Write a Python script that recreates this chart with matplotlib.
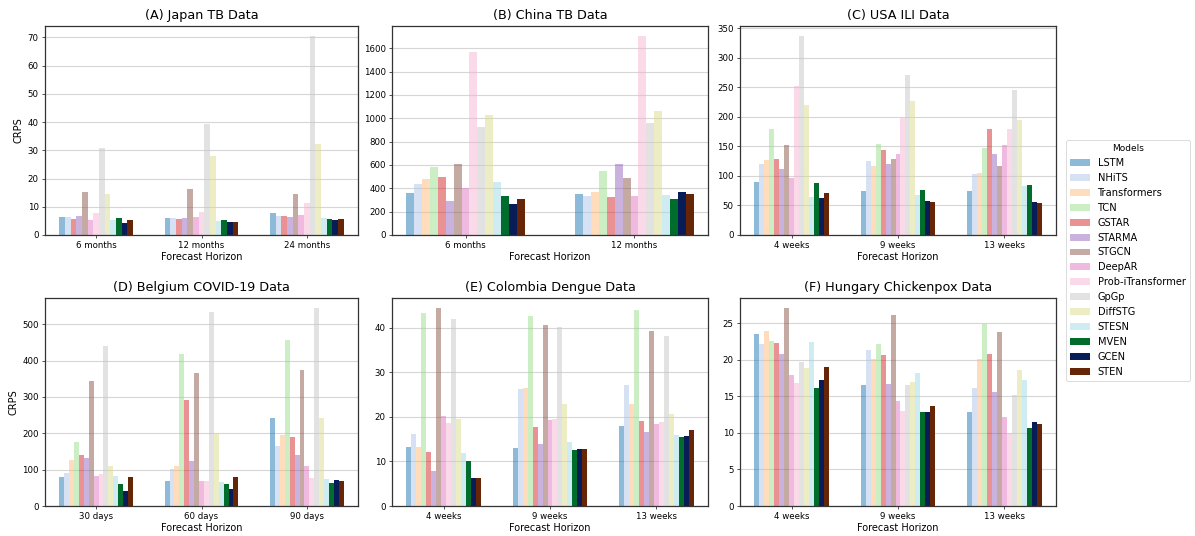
import matplotlib
matplotlib.use("Agg")
import matplotlib.pyplot as plt
import numpy as np

models = ["LSTM", "NHiTS", "Transformers", "TCN", "GSTAR", "STARMA", "STGCN",
          "DeepAR", "Prob-iTransformer", "GpGp", "DiffSTG", "STESN", "MVEN", "GCEN", "STEN"]

colors = ["#1f77b4", "#aec7e8", "#ffbb78", "#98df8a", "#d62728", "#9467bd", "#8c564b",
          "#e377c2", "#f7b6d2", "#c7c7c7", "#dbdb8d", "#9edae5", "#006d2c", "#081d58", "#662506"]
alphas = [0.5] * 12 + [1.0] * 3

# (A) Japan TB - rows follow `models`, None = not reported
japan_horizons = ["6 months", "12 months", "24 months"]
japan_crps = [
    [6.4, 6.0, 7.8], [6.4, 6.0, 6.7], None, None, [5.7, 5.7, 6.7], [6.7, 6.0, 6.4],
    [15.2, 16.3, 14.5], [5.3, 6.4, 7.1], [7.8, 8.1, 11.3], [30.8, 39.3, 70.5],
    [14.5, 28.0, 32.2], [5.3, 5.0, 6.0], [6.0, 5.3, 5.7], [4.25, 4.6, 5.3], [5.3, 4.6, 5.7],
]

# (B) China TB
china_horizons = ["6 months", "12 months"]
china_crps = [
    [360, 351], [437, 334], [480, 369], [583, 549], [497, 326], [291, 609], [609, 489],
    [400, 334], [1569, 1706], [926, 960], [1029, 1063], [454, 343], [334, 309], [266, 369], [309, 351],
]

# (C) USA ILI
usa_horizons = ["4 weeks", "9 weeks", "13 weeks"]
usa_crps = [
    [89.8, 74.5, 74.5], [120, 125, 103], [127, 117, 105], [179.5, 154, 147], [128.7, 144, 179.5],
    [111.8, 120, 137], [152.4, 128.7, 117], [96.5, 137, 152], [252, 198, 179.5], [337, 271, 245.6],
    [220, 227, 194.8], [64.4, 67.8, 83], [88, 76, 84.7], [62.7, 57.6, 56], [71, 56, 54],
]

# (D) Belgium COVID-19
belgium_horizons = ["30 days", "60 days", "90 days"]
belgium_crps = [
    [80.6, 69.6, 242.7], [91.6, 102.6, 165.8], [127, 110.8, 196], [176.7, 418.5, 457],
    [141, 292, 190.5], [132.8, 124.5, 141], [344, 366, 374.5], [83.3, 69.6, 110.8],
    [88.8, 69.6, 77.8], [440, 534, 545], [110.8, 201.5, 242.7], [83.3, 66.8, 75],
    [61.4, 61.4, 64], [42, 47.6, 72.3], [80.6, 80.6, 69.6],
]

# (E) Colombia Dengue
colombia_horizons = ["4 weeks", "9 weeks", "13 weeks"]
colombia_crps = [
    [13.3, 13.1, 18.0], [16.2, 26.3, 27.2], [13.3, 26.5, 23.0], [43.4, 42.7, 44.0],
    [12.2, 17.8, 19.1], [7.9, 14.0, 16.7], [44.5, 40.7, 39.3], [20.3, 19.4, 18.5],
    [18.7, 19.6, 18.9], [42.0, 40.2, 38.2], [19.6, 23.0, 20.7], [12.0, 14.4, 16.0],
    [10.2, 12.6, 15.6], [6.4, 12.9, 15.8], [6.4, 12.9, 17.1],
]

# (F) Hungary Chickenpox
hungary_horizons = ["4 weeks", "9 weeks", "13 weeks"]
hungary_crps = [
    [23.5, 16.6, 12.9], [22.2, 21.4, 16.2], [24.0, 20.1, 20.1], [22.6, 22.2, 24.9],
    [22.3, 20.7, 20.8], [20.8, 16.7, 15.6], [27.1, 26.1, 23.8], [17.9, 14.4, 12.2],
    [16.8, 13.0, 10.0], [19.7, 16.6, 15.2], [18.9, 17.0, 18.6], [22.5, 18.2, 17.3],
    [16.2, 12.9, 10.7], [17.3, 12.9, 11.5], [19.0, 13.7, 11.2],
]

panels = [
    ("(A) Japan TB Data", japan_horizons, japan_crps),
    ("(B) China TB Data", china_horizons, china_crps),
    ("(C) USA ILI Data", usa_horizons, usa_crps),
    ("(D) Belgium COVID-19 Data", belgium_horizons, belgium_crps),
    ("(E) Colombia Dengue Data", colombia_horizons, colombia_crps),
    ("(F) Hungary Chickenpox Data", hungary_horizons, hungary_crps),
]

W, H = 1195, 536
fig = plt.figure(figsize=(W / 100, H / 100), dpi=100)

lefts = [45, 392, 740]
widths = [313, 316, 316]
tops = [26, 298]
heights = [209, 208]

handles = {}
for k, (title, horizons, crps) in enumerate(panels):
    r, c = divmod(k, 3)
    ax = fig.add_axes([lefts[c] / W, (H - tops[r] - heights[r]) / H, widths[c] / W, heights[r] / H])
    present = [i for i, v in enumerate(crps) if v is not None]
    n = len(present)
    w = 0.7 / n
    x = np.arange(len(horizons))
    for j, i in enumerate(present):
        b = ax.bar(x + (j - (n - 1) / 2) * w, crps[i], width=w, color=colors[i],
                   alpha=alphas[i], label=models[i], linewidth=0)
        handles.setdefault(models[i], b)
    ax.set_xticks(x)
    ax.set_xticklabels(horizons)
    ax.tick_params(axis="both", labelsize=6.2, length=2.5, width=0.6, pad=2, color="#333333")
    ax.set_title(title, fontsize=9.2, pad=5)
    ax.set_xlabel("Forecast Horizon", fontsize=7, labelpad=1)
    if c == 0:
        ax.set_ylabel("CRPS", fontsize=7, labelpad=3)
    ax.yaxis.grid(True, color="#d6d6d6", linewidth=0.8)
    ax.set_axisbelow(True)
    for s in ax.spines.values():
        s.set_color("#333333")
        s.set_linewidth(0.9)

leg = fig.legend([handles[m] for m in models], models, title="Models",
                 loc="upper left", bbox_to_anchor=(1066 / W, (H - 140) / H),
                 fontsize=7.1, title_fontsize=6.5, frameon=True, fancybox=True,
                 borderaxespad=0)
leg.get_frame().set_linewidth(0.6)

fig.savefig("out.png", dpi=100)
